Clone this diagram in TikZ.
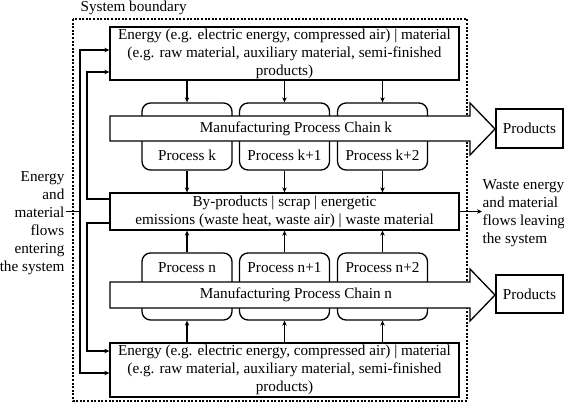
\documentclass[tikz,border=0pt]{standalone}
\usepackage{fontspec}
\setmainfont{Liberation Serif}
\usetikzlibrary{arrows.meta}

\begin{document}
\begin{tikzpicture}[
                    x=1pt, y=-1pt,
                    font=\fontsize{15.2}{18}\selectfont,
                    line width=1.3pt,
                    box/.style={
                        rectangle, draw, fill=white,
                        inner sep=0pt, align=center
                        },
                    procbox/.style={
                        rectangle, rounded corners=3mm,
                        draw, fill=white,
                        minimum width=90pt, minimum height=67pt,
                        inner sep=0pt
                        },
                    chainarrow/.style={
                        draw, fill=white, line join=miter
                        },
                    flow/.style={
                        -{Stealth[length=5pt, width=4.5pt]}
                        },
                    boundary/.style={
                        draw, line width=1.3pt,
                        dash pattern=on 2pt off 1.6pt
                        }
                    ]
\useasboundingbox (0,0) rectangle (564,404);
% system boundary
\draw[boundary] (73,19) rectangle (467,401);
\node [anchor=west, inner sep=0pt] (sysb) at (80,8) {System boundary};

% supply and by-products
\node [box, minimum width=349pt, minimum height=53pt] (eTop) at (284.5,53.5)
      {Energy (e.g. electric energy, compressed air) | material\\
       (e.g. raw material, auxiliary material, semi-finished\\
       products)};
\node [box, minimum width=349pt, minimum height=37pt] (byp) at (284.5,211.5)
      {By-products | scrap | energetic\\
       emissions (waste heat, waste air) | waste material};
\node [box, minimum width=349pt, minimum height=54pt] (eBot) at (284.5,370)
      {Energy (e.g. electric energy, compressed air) | material\\
       (e.g. raw material, auxiliary material, semi-finished\\
       products)};

% chain k
\foreach \x/\nm/\txt in {187/pk/Process k, 284.5/pk1/Process k+1, 382.5/pk2/Process k+2} {
    \node [procbox] (\nm) at (\x,136.5) {};
    \node (\nm-t) at (\x,155.5) {\txt};
}
\draw [chainarrow] (110,116) -- (470,116) -- (470,103) -- (495,129)
                   -- (470,155) -- (470,141) -- (110,141) -- cycle;
\node (chainK) at (296,128.5) {Manufacturing Process Chain k};
\node [box, minimum width=67pt, minimum height=39pt] (prodK) at (529.5,128.5) {Products};

% chain n
\foreach \x/\nm/\txt in {187/pn/Process n, 284.5/pn1/Process n+1, 382.5/pn2/Process n+2} {
    \node [procbox] (\nm) at (\x,286.5) {};
    \node (\nm-t) at (\x,267.5) {\txt};
}
\draw [chainarrow] (110,282) -- (470,282) -- (470,269) -- (495,295)
                   -- (470,321) -- (470,308) -- (110,308) -- cycle;
\node (chainN) at (296,295) {Manufacturing Process Chain n};
\node [box, minimum width=67pt, minimum height=38pt] (prodN) at (529.5,294) {Products};

% flows through the processes
\foreach \nm in {pk, pk1, pk2} {
    \draw [flow] (eTop.south -| \nm) -- (\nm.north);
    \draw [flow] (\nm.south) -- (byp.north -| \nm);
}
\foreach \nm in {pn, pn1, pn2} {
    \draw [flow] (eBot.north -| \nm) -- (\nm.south);
    \draw [flow] (\nm.north) -- (byp.south -| \nm);
}

% recycling loops
\draw [flow] ([yshift=12.5pt]byp.west) -| (87,72) -- ([yshift=-18.5pt]eTop.west);
\draw [flow] ([yshift=-11.5pt]byp.west) -| (87,351) -- ([yshift=19pt]eBot.west);

% flows entering
\node [align=right, anchor=east, inner sep=0pt] (inTxt) at (65,223)
      {Energy\\and\\material\\flows\\entering\\the system};
\coordinate (inTick) at (66,211.5);
\coordinate (inJoin) at (80,211.5);
\draw (inTick) -- (inJoin);
\draw [flow] (inJoin) |- ([yshift=3.5pt]eTop.west);
\draw [flow] (inJoin) |- ([yshift=-3pt]eBot.west);

% flows leaving
\node [align=left, anchor=west, inner sep=0pt] (outTxt) at (482,213)
      {Waste energy\\and material\\flows leaving\\the system};
\draw [flow] (byp.east) -- (outTxt.west |- byp.east);
\end{tikzpicture}
\end{document}
